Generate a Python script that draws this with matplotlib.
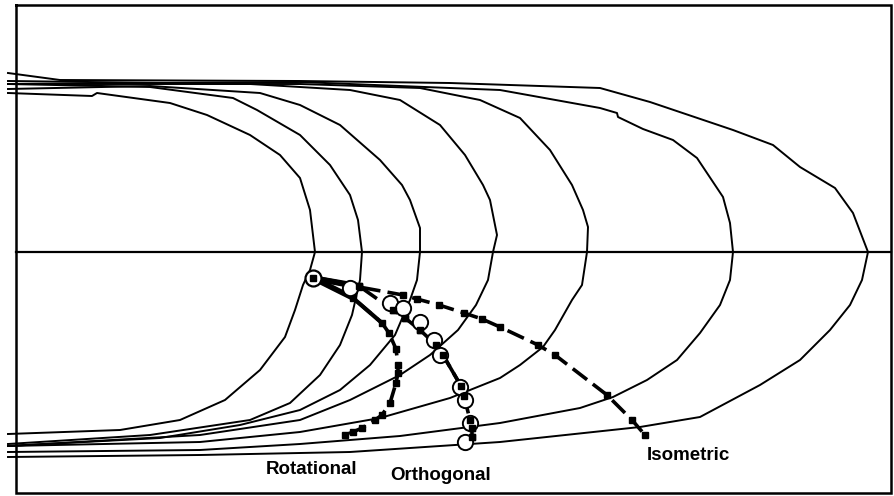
import matplotlib
matplotlib.use("Agg")
import matplotlib.pyplot as plt

# Front curves (pixel coordinates, y downward)
front_a = ([8, 92, 97, 170, 207, 250, 280, 300, 310, 315, 310, 303, 295, 285, 260, 225, 180, 120, 8],
           [93, 96, 93, 103, 115, 135, 155, 178, 210, 252, 270, 285, 310, 337, 370, 400, 420, 430, 434])
front_b = ([8, 150, 233, 257, 300, 330, 350, 358, 362, 360, 352, 340, 320, 290, 250, 150, 8],
           [84, 87, 98, 110, 135, 165, 195, 220, 252, 280, 315, 345, 375, 403, 420, 435, 444])
front_c = ([8, 150, 260, 300, 340, 380, 402, 410, 420, 420, 417, 410, 395, 370, 340, 300, 240, 160, 8],
           [89, 86, 93, 105, 125, 160, 185, 200, 228, 252, 280, 300, 335, 365, 390, 410, 425, 438, 446])
front_d = ([8, 250, 350, 400, 440, 465, 483, 490, 497, 493, 488, 476, 458, 430, 400, 350, 300, 200, 8],
           [81, 84, 90, 100, 125, 155, 185, 200, 235, 252, 280, 305, 330, 355, 375, 400, 420, 435, 446])
front_e = ([8, 300, 420, 480, 520, 550, 572, 583, 588, 587, 582, 572, 555, 543, 520, 500, 450, 380, 300, 200, 8],
           [84, 84, 88, 100, 118, 150, 185, 210, 227, 252, 285, 300, 330, 347, 365, 378, 398, 418, 432, 442, 446])
front_f = ([8, 300, 500, 600, 617, 618, 643, 673, 697, 723, 730, 733, 730, 720, 700, 677, 647, 613, 580, 500, 400, 300, 200, 8],
           [84, 82, 90, 108, 113, 117, 129, 140, 158, 197, 223, 252, 280, 305, 333, 360, 380, 397, 408, 423, 436, 444, 450, 452])
front_g = ([8, 60, 300, 450, 600, 650, 733, 773, 800, 835, 853, 868, 862, 850, 830, 800, 760, 700, 640, 500, 350, 200, 8],
           [73, 80, 81, 83, 88, 102, 130, 145, 167, 188, 213, 252, 280, 305, 330, 360, 385, 417, 427, 442, 452, 455, 457])
fronts = [front_a, front_b, front_c, front_d, front_e, front_f, front_g]

# Trajectories
start = (313, 278)
rot_x = [313, 353, 382, 389, 396, 398, 398, 396, 390, 382, 375, 362, 353, 345]
rot_y = [278, 298, 323, 333, 349, 365, 373, 383, 403, 415, 420, 428, 432, 435]
orth_x = [313, 359, 393, 405, 420, 436, 443, 461, 464, 470, 472, 472]
orth_y = [278, 286, 310, 318, 330, 345, 355, 386, 396, 420, 428, 437]
orth_cx = [350, 390, 403, 420, 434, 440, 460, 465, 470, 465]
orth_cy = [288, 303, 308, 322, 340, 355, 387, 400, 423, 442]
iso_x = [313, 359, 403, 417, 439, 464, 482, 500, 538, 555, 607, 632, 645]
iso_y = [278, 287, 295, 299, 305, 313, 319, 327, 345, 355, 395, 420, 435]

labels = ["Rotational", "Orthogonal", "Isometric"]
label_x = [312, 441, 688]
label_y = [470, 476, 455]

fig = plt.figure(figsize=(8.95, 4.96), dpi=100)
ax = fig.add_axes([0, 0, 1, 1])
ax.set_xlim(0, 895)
ax.set_ylim(496, 0)
ax.axis("off")

# frame and centre line
ax.plot([16, 891, 891, 16, 16], [5, 5, 493, 493, 5], color="black", lw=1.8, solid_joinstyle="miter")
ax.plot([16, 891], [252, 252], color="black", lw=1.6)

for xs, ys in fronts:
    ax.plot(xs, ys, color="black", lw=1.4)

dash = dict(color="black", lw=2.6, linestyle=(0, (5, 2)), marker="s", markersize=4.5,
            markerfacecolor="black", markeredgecolor="black", zorder=3)
ax.plot(rot_x, rot_y, **dash)
ax.plot(orth_x, orth_y, **dash)
ax.plot(iso_x, iso_y, **dash)

# thick wedge from the starting point, solid stretch on the orthogonal path
for xs, ys in [(rot_x, rot_y), (orth_x, orth_y), (iso_x, iso_y)]:
    ax.plot(xs[:2], ys[:2], color="black", lw=4, solid_capstyle="butt", zorder=3)
ax.plot(orth_x[6:8], orth_y[6:8], color="black", lw=2.6, zorder=3)
ax.plot(rot_x[1:3], rot_y[1:3], color="black", lw=3, zorder=3)

ax.plot(orth_cx, orth_cy, linestyle="none", marker="o", markersize=11,
        markerfacecolor="white", markeredgecolor="black", markeredgewidth=1.4, zorder=4)
ax.plot(orth_x[1:], orth_y[1:], linestyle="none", marker="s", markersize=4.5,
        color="black", zorder=5)
ax.plot([start[0]], [start[1]], marker="o", markersize=11.5, markerfacecolor="white",
        markeredgecolor="black", markeredgewidth=1.6, zorder=6)
ax.plot([start[0]], [start[1]], marker="s", markersize=5, color="black", zorder=7)

for t, x, y in zip(labels, label_x, label_y):
    ax.text(x, y, t, ha="center", va="center", fontsize=13.5, fontweight="bold",
            family="Liberation Sans")

fig.savefig("out.png", dpi=100)
